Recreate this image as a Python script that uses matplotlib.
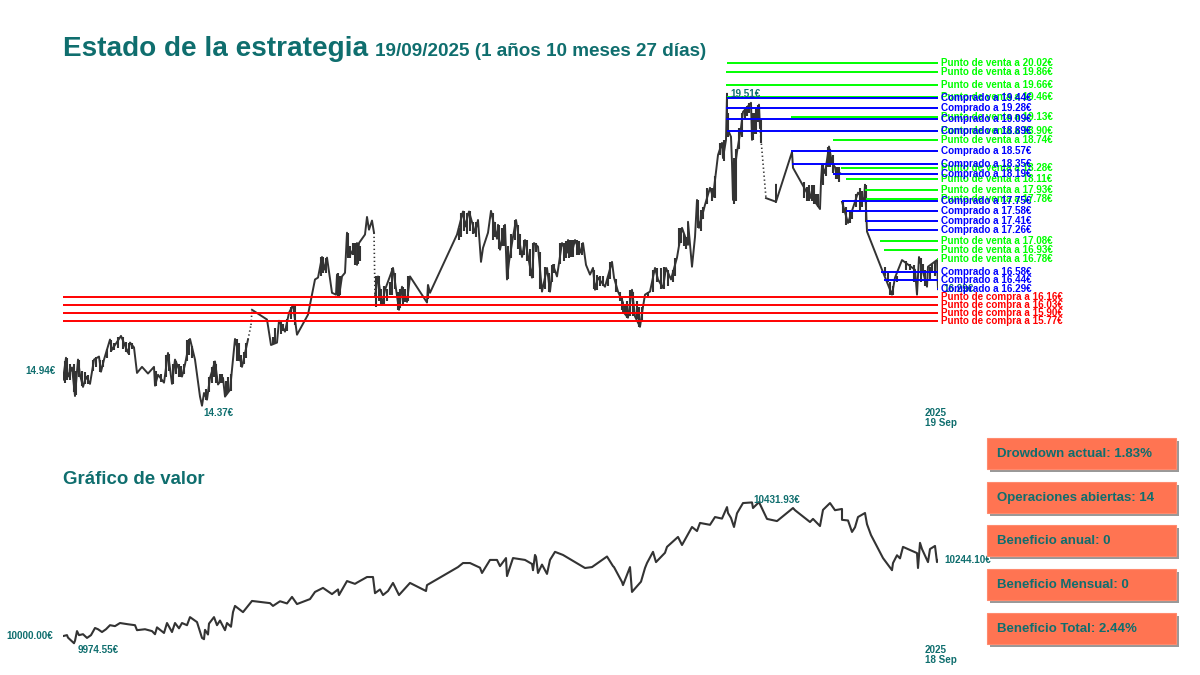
#!/usr/bin/env python
"""Estado de la estrategia: precio con niveles de compra/venta y gráfico de valor."""
import matplotlib
matplotlib.use("Agg")
import matplotlib.pyplot as plt
from matplotlib.patches import Rectangle

plt.rcParams["font.family"] = ["Liberation Sans", "DejaVu Sans"]
plt.rcParams["font.weight"] = "bold"

TEAL = "#0f6e6e"
LINE = "#333333"
GREEN = "#00ff00"
BLUE = "#0000ff"
RED = "#ff0000"

# precio: sesión (0 = inicio) y cierre
price_sessions = [
    0, 3, 5, 9, 12, 15, 17, 20, 23, 27,
    31, 36, 38, 41, 47, 49, 52, 58, 65, 67,
    71, 74, 79, 85, 91, 92, 95, 101, 105, 109,
    112, 119, 122, 127, 132, 137, 139, 141, 144, 147,
    152, 155, 160, 162, 167, 172, 179, 185, 188, 189,
    204, 208, 214, 216, 222, 226, 230, 234, 245, 249,
    252, 255, 259, 262, 264, 269, 273, 274, 276, 279,
    282, 284, 286, 294, 294, 296, 302, 304, 306, 309,
    311, 312, 315, 319, 322, 330, 336, 339, 344, 347,
    364, 365, 367, 394, 400, 402, 406, 412, 415, 418,
    420, 425, 428, 434, 435, 437, 442, 444, 446, 450,
    453, 459, 462, 469, 471, 475, 479, 484, 487, 490,
    494, 499, 504, 505, 509, 512, 517, 520, 523, 527,
    530, 532, 535, 542, 549, 551, 555, 560, 560, 565,
    569, 572, 577, 580, 582, 587, 592, 595, 600, 603,
    608, 614, 619, 625, 625, 629, 632, 634, 636, 642,
    647, 650, 655, 659, 660, 663, 664, 664, 668, 669,
    670, 672, 674, 678, 680, 688, 689, 692, 696, 697,
    703, 713, 713, 713, 729, 730, 747, 750, 752, 757,
    758, 759, 762, 766, 769, 772, 774, 777, 779, 785,
    795, 801, 802, 804, 819, 829, 832, 839, 852, 854,
    856, 864, 865, 874, 875,
]
price_closes = [
    14.80, 15.16, 14.85, 15.00, 14.53, 15.13, 14.88, 14.68, 14.85, 14.73,
    15.13, 15.18, 14.93, 15.13, 15.46, 15.29, 15.37, 15.52, 15.24, 15.41,
    15.33, 14.91, 15.01, 14.90, 15.01, 14.70, 14.88, 14.75, 15.24, 14.73,
    15.13, 14.85, 15.05, 15.47, 15.13, 14.52, 14.37, 14.58, 14.47, 14.83,
    15.10, 14.72, 14.83, 14.52, 14.63, 15.47, 15.01, 15.46, 15.70, 15.95,
    15.79, 15.37, 15.41, 15.77, 15.59, 15.90, 16.03, 15.54, 15.87, 16.20,
    16.45, 16.48, 16.82, 16.61, 16.81, 16.23, 16.20, 16.53, 16.17, 16.50,
    16.56, 17.22, 16.82, 17.05, 16.69, 17.05, 17.19, 17.48, 17.27, 17.42,
    17.22, 16.17, 16.50, 16.03, 16.28, 16.64, 15.95, 16.33, 16.08, 16.50,
    16.07, 16.36, 16.23, 17.19, 17.57, 17.32, 17.57, 17.22, 17.43, 16.74,
    16.97, 17.22, 17.58, 17.12, 17.35, 16.94, 17.35, 16.45, 16.74, 17.15,
    17.43, 16.82, 17.10, 16.48, 17.05, 16.99, 16.25, 16.64, 16.25, 16.69,
    16.50, 17.05, 16.89, 17.10, 16.90, 17.10, 16.89, 17.05, 16.69, 16.53,
    16.64, 16.28, 16.48, 16.33, 16.74, 16.48, 16.25, 16.07, 15.92, 15.82,
    16.28, 15.84, 15.67, 16.00, 16.20, 16.25, 16.64, 16.45, 16.31, 16.64,
    16.45, 16.81, 17.30, 17.02, 17.40, 16.66, 17.15, 17.76, 17.30, 17.68,
    17.96, 17.81, 18.50, 18.70, 18.45, 18.75, 19.51, 18.95, 18.80, 18.37,
    17.76, 18.30, 18.55, 18.95, 19.21, 19.36, 18.75, 19.11, 19.33, 18.95,
    17.79, 17.73, 18.01, 17.73, 18.55, 18.29, 17.79, 17.98, 17.73, 17.61,
    18.06, 18.33, 18.20, 18.64, 18.37, 18.30, 18.12, 18.20, 17.73, 17.38,
    17.88, 17.76, 18.01, 17.24, 16.61, 16.20, 16.48, 16.77, 16.61, 16.20,
    16.82, 16.33, 16.66, 16.77, 16.29,
]
# tramos donde el precio se ve punteado y huecos sin datos (sesión de inicio)
price_dotted = [185, 188, 311, 697]
price_gaps = [777]

# rango dentro de la sesión, visible como pelos verticales
wick_sessions = [
    2, 4, 7, 11, 13, 16, 19, 22, 25, 30, 33, 37, 40, 44, 48, 51, 55, 60, 63, 66, 69,
    93, 98, 103, 106, 110, 113, 116, 118, 121, 124, 126, 129,
    143, 146, 149, 151, 153, 157, 159, 163, 165, 168, 174, 176, 178, 181, 183,
    210, 212, 218, 220, 224, 228, 232,
    258, 260, 263, 275, 277, 285, 287, 290, 292, 295, 297,
    313, 316, 318, 321, 324, 327, 329, 332, 335, 337, 340, 342, 345,
    365, 396, 398, 401, 404, 407, 410, 413,
    430, 432, 436, 439, 441, 445, 448, 452, 455, 457, 461, 464, 467, 470, 473, 477, 482, 486, 489,
    491, 497, 501, 503, 506, 508, 510, 514, 516, 519,
    531, 534, 537, 540, 545, 547, 553, 557, 559, 562, 564, 567, 570, 574, 576, 579,
    585, 590, 594, 598, 601, 605, 610, 612, 616, 618, 621, 623,
    635, 638, 640, 644, 649, 652, 657, 661, 665,
    671, 673, 676, 679, 682, 684, 686, 690, 691, 693, 695, 698,
    741, 744, 746, 749, 751, 753, 755,
    760, 763, 765, 767, 770, 773, 775, 776,
    780, 783, 787, 789, 793, 797, 799, 803,
    822, 825, 827, 830, 834, 843, 847, 851, 858, 860, 862, 867, 869, 872,
]
wick_lows = [
    14.75, 14.80, 14.80, 14.60, 14.55, 14.85, 14.70, 14.72, 14.72, 14.95, 15.00, 14.92, 15.00, 15.15, 15.25, 15.28, 15.32, 15.30, 15.25, 15.20, 15.30,
    14.70, 14.76, 14.85, 14.95, 14.73, 14.90, 14.85, 14.85, 14.90, 15.10, 15.20, 15.15,
    14.47, 14.60, 14.75, 14.85, 14.75, 14.75, 14.75, 14.55, 14.60, 14.62, 15.10, 15.10, 15.00, 15.05, 15.15,
    15.38, 15.40, 15.55, 15.60, 15.60, 15.80, 15.70,
    16.50, 16.55, 16.55, 16.17, 16.20, 16.80, 16.80, 16.85, 16.69, 16.70, 16.75,
    16.00, 16.10, 16.03, 16.05, 16.10, 16.20, 16.20, 16.30, 15.95, 15.98, 16.05, 16.08, 16.10,
    16.12, 17.10, 17.15, 17.25, 17.20, 17.25, 17.20, 17.15,
    17.10, 17.15, 16.95, 17.00, 17.00, 16.45, 16.80, 17.10, 16.95, 16.85, 16.85, 16.75, 16.50, 16.48, 16.90, 16.30, 16.30, 16.25, 16.40,
    16.55, 16.70, 16.75, 16.80, 16.80, 16.82, 16.82, 16.85, 16.85, 16.85,
    16.30, 16.28, 16.35, 16.35, 16.35, 16.45, 16.25, 16.10, 15.95, 15.90, 15.82, 15.85, 15.85, 15.80, 15.67, 15.75,
    16.15, 16.25, 16.40, 16.30, 16.30, 16.35, 16.40, 16.50, 17.00, 17.05, 17.00, 16.95,
    17.30, 17.25, 17.45, 17.70, 17.75, 17.80, 18.50, 18.40, 18.80,
    17.70, 17.75, 18.60, 18.80, 19.10, 19.15, 19.20, 18.75, 18.85, 18.85, 19.05, 18.70,
    17.80, 17.75, 17.75, 17.75, 17.70, 17.70, 17.65,
    18.00, 18.15, 18.30, 18.30, 18.20, 18.10, 18.10, 18.05,
    17.55, 17.35, 17.38, 17.45, 17.65, 17.60, 17.65, 17.40,
    16.50, 16.40, 16.20, 16.20, 16.40, 16.60, 16.60, 16.40, 16.40, 16.55, 16.35, 16.45, 16.55, 16.50,
]
wick_highs = [
    15.10, 15.15, 15.05, 15.05, 14.95, 15.12, 14.95, 14.92, 14.87, 15.12, 15.17, 15.12, 15.12, 15.30, 15.46, 15.40, 15.50, 15.50, 15.42, 15.40, 15.40,
    14.95, 14.90, 15.20, 15.22, 15.05, 15.10, 15.05, 15.02, 15.05, 15.45, 15.47, 15.35,
    14.65, 14.85, 15.00, 15.10, 15.05, 14.90, 14.90, 14.78, 14.85, 14.90, 15.47, 15.40, 15.20, 15.25, 15.40,
    15.50, 15.65, 15.77, 15.72, 15.80, 16.00, 16.03,
    16.82, 16.82, 16.80, 16.55, 16.50, 17.22, 17.00, 17.05, 17.05, 17.05, 17.00,
    16.50, 16.50, 16.30, 16.35, 16.30, 16.40, 16.64, 16.55, 16.25, 16.30, 16.33, 16.30, 16.50,
    16.36, 17.30, 17.55, 17.57, 17.55, 17.57, 17.40, 17.40,
    17.55, 17.40, 17.35, 17.30, 17.35, 17.00, 17.20, 17.43, 17.35, 17.20, 17.10, 17.10, 16.95, 17.05, 17.05, 16.90, 16.65, 16.55, 16.69,
    16.70, 17.05, 17.05, 17.08, 17.10, 17.10, 17.10, 17.10, 17.08, 17.05,
    16.60, 16.52, 16.50, 16.50, 16.50, 16.74, 16.45, 16.25, 16.15, 16.05, 16.10, 16.28, 16.25, 16.10, 16.00, 16.00,
    16.25, 16.60, 16.64, 16.64, 16.65, 16.60, 16.60, 16.80, 17.30, 17.30, 17.20, 17.15,
    17.76, 17.60, 17.65, 17.95, 17.95, 18.15, 18.70, 18.75, 19.20,
    18.45, 18.60, 18.95, 19.20, 19.25, 19.30, 19.36, 19.20, 19.20, 19.25, 19.33, 19.10,
    18.05, 17.98, 18.00, 18.00, 18.00, 17.85, 17.85,
    18.33, 18.30, 18.64, 18.60, 18.50, 18.30, 18.30, 18.30,
    17.75, 17.65, 17.60, 17.60, 17.85, 17.95, 17.90, 18.00,
    16.65, 16.55, 16.40, 16.35, 16.50, 16.75, 16.70, 16.68, 16.80, 16.70, 16.60, 16.65, 16.70, 16.75,
]

# valor de la cartera
value_sessions = [
    0, 4, 5, 11, 12, 14, 16, 20, 24, 28, 32, 35, 39, 43, 47, 52, 57, 65, 72, 74,
    82, 89, 92, 94, 101, 104, 109, 112, 116, 119, 124, 127, 134, 139, 141, 142, 145, 146, 151, 154,
    157, 162, 164, 168, 170, 172, 180, 189, 207, 210, 217, 224, 229, 234, 247, 252, 260, 269, 275, 276,
    284, 292, 294, 304, 310, 312, 317, 320, 325, 330, 336, 347, 363, 364, 395, 400, 407, 417, 419, 427,
    434, 437, 443, 444, 450, 462, 469, 470, 472, 473, 475, 479, 484, 487, 492, 500, 522, 529, 544, 550,
    551, 559, 560, 567, 569, 578, 582, 584, 590, 593, 602, 604, 615, 619, 629, 634, 637, 647, 652, 659,
    664, 665, 668, 671, 674, 680, 689, 690, 696, 704, 714, 730, 732, 747, 750, 757, 760, 767, 772, 779,
    779, 785, 789, 792, 795, 802, 804, 808, 820, 829, 830, 834, 837, 840, 854, 855, 857, 859, 865, 867,
    872, 874, 875,
]
value_totals = [
    10000, 10003, 9995, 9977, 9985, 10016, 10003, 10006, 9994, 10003, 10026, 10022, 10013, 10022, 10035, 10032, 10042, 10038, 10035, 10019,
    10022, 10016, 10006, 10028, 10010, 10042, 10013, 10042, 10025, 10042, 10035, 10061, 10045, 9994, 9990, 10020, 10005, 10040, 10061, 10035,
    10050, 10019, 10042, 10030, 10077, 10097, 10077, 10113, 10106, 10097, 10112, 10105, 10126, 10103, 10119, 10142, 10155, 10135, 10150, 10132,
    10177, 10168, 10172, 10190, 10190, 10138, 10150, 10132, 10145, 10171, 10132, 10171, 10145, 10164, 10222, 10235, 10235, 10220, 10203, 10245,
    10245, 10225, 10251, 10193, 10251, 10245, 10232, 10212, 10261, 10255, 10203, 10230, 10200, 10245, 10271, 10261, 10219, 10222, 10256, 10225,
    10222, 10174, 10164, 10222, 10142, 10175, 10219, 10235, 10271, 10238, 10268, 10287, 10319, 10293, 10351, 10338, 10364, 10358, 10383, 10378,
    10415, 10396, 10380, 10351, 10395, 10428, 10430, 10412, 10431, 10377, 10370, 10412, 10405, 10367, 10377, 10354, 10406, 10428, 10405, 10409,
    10374, 10372, 10335, 10350, 10383, 10396, 10360, 10325, 10251, 10212, 10235, 10260, 10250, 10287, 10267, 10219, 10300, 10280, 10238, 10280,
    10290, 10238, 10244,
]

# niveles: precio y sesión en la que empieza la línea
sell_levels = [20.02, 19.86, 19.66, 19.46, 19.13, 18.90, 18.74, 18.28, 18.11, 17.93, 17.78, 17.08, 16.93, 16.78]
sell_starts = [664, 663, 663, 664, 728, 728, 770, 778, 783, 802, 803, 817, 821, 874]
buy_levels = [19.44, 19.28, 19.09, 18.89, 18.57, 18.35, 18.19, 17.75, 17.58, 17.41, 17.26, 16.58, 16.44, 16.29]
buy_starts = [664, 663, 663, 664, 728, 729, 770, 779, 783, 803, 805, 818, 821, 874]
entry_levels = [16.16, 16.03, 15.90, 15.77]

panel_labels = ["Drowdown actual: 1.83%", "Operaciones abiertas: 14", "Beneficio anual: 0",
                "Beneficio Mensual: 0", "Beneficio Total: 2.44%"]


def pos(x0, y0, x1, y1):
    # píxeles (origen arriba) -> fracción de figura
    return [x0 / 1200, 1 - y1 / 675, (x1 - x0) / 1200, (y1 - y0) / 675]


def plot_series(ax, xs, ys, dotted=(), gaps=(), lw=1.5):
    sx, sy = [], []
    for i in range(len(xs)):
        sx.append(xs[i])
        sy.append(ys[i])
        if i + 1 == len(xs):
            break
        if xs[i] in dotted:
            ax.plot(xs[i:i + 2], ys[i:i + 2], color=LINE, lw=1.2, ls=(0, (0.8, 1.6)))
        if xs[i] in dotted or xs[i] in gaps:
            sx.append(float("nan"))
            sy.append(float("nan"))
    ax.plot(sx, sy, color=LINE, lw=lw, solid_joinstyle="round")


fig = plt.figure(figsize=(12, 6.75), dpi=100)

ax = fig.add_axes(pos(63, 50, 938, 430))
ax.set_xlim(0, 875)
ax.set_ylim(13.97, 20.23)
ax.axis("off")
ax.vlines(wick_sessions, wick_lows, wick_highs, color=LINE, lw=1.5)
plot_series(ax, price_sessions, price_closes, price_dotted, price_gaps, lw=1.4)

lab = dict(fontsize=7.15, va="center", annotation_clip=False, textcoords="offset pixels")
for lev, st in zip(sell_levels, sell_starts):
    ax.plot([st, 875], [lev, lev], color=GREEN, lw=1.4, solid_capstyle="butt")
    ax.annotate(f"Punto de venta a {lev:.2f}€", (875, lev), xytext=(3, 0), color=GREEN, **lab)
ax.annotate("16.29€", (875, 16.29), xytext=(5, 0), color=TEAL, **lab)
for lev, st in zip(buy_levels, buy_starts):
    ax.plot([st, 875], [lev, lev], color=BLUE, lw=1.4, solid_capstyle="butt")
    ax.annotate(f"Comprado a {lev:.2f}€", (875, lev), xytext=(3, 0), color=BLUE, **lab)
for lev in entry_levels:
    ax.plot([0, 875], [lev, lev], color=RED, lw=1.4, solid_capstyle="butt")
    ax.annotate(f"Punto de compra a {lev:.2f}€", (875, lev), xytext=(3, 0), color=RED, **lab)

note = dict(fontsize=7.15, color=TEAL, annotation_clip=False, textcoords="offset pixels")
ax.annotate("19.51€", (664, 19.51), xytext=(3, 0), va="center", **note)
ax.annotate("14.94€", (0, 14.94), xytext=(-38, 0), va="center", **note)
ax.annotate("14.37€", (141, 14.37), xytext=(-1, -7), va="center", **note)
ax.annotate("2025\n19 Sep", (875, 13.97), xytext=(-13, 12), va="center", linespacing=1.0, **note)

vx = fig.add_axes(pos(63, 490, 938, 660))
vx.set_xlim(0, 875)
vx.set_ylim(9923, 10470)
vx.axis("off")
plot_series(vx, value_sessions, value_totals)

vx.annotate("10000.00€", (0, 10000), xytext=(-57, 0), va="center", **note)
vx.annotate("9974.55€", (11, 9974.55), xytext=(4, -6), va="center", **note)
vx.annotate("10431.93€", (690, 10431.93), xytext=(0, 2), va="center", **note)
vx.annotate("10244.10€", (875, 10244.10), xytext=(6, 0), va="center", **note)
vx.annotate("2025\n18 Sep", (875, 9923), xytext=(-13, 5), va="center", linespacing=1.0, **note)

# capa en píxeles para títulos y paneles
ov = fig.add_axes([0, 0, 1, 1], zorder=5)
ov.set_xlim(0, 1200)
ov.set_ylim(675, 0)
ov.axis("off")
ov.patch.set_alpha(0)
ov.text(63, 49, "Estado de la estrategia", fontsize=20.1, color=TEAL, va="center")
ov.text(375, 52, "19/09/2025 (1 años 10 meses 27 días)", fontsize=13.6, color=TEAL, va="center")
ov.text(63, 480, "Gráfico de valor", fontsize=13.4, color=TEAL, va="center")

for i, txt in enumerate(panel_labels):
    top = 438 + i * 43.7
    ov.add_patch(Rectangle((990, top + 3), 189, 31, fc="#999999", ec="none"))
    ov.add_patch(Rectangle((987, top), 189, 31, fc="#ff7452", ec="#ff8a6e", lw=0.8))
    ov.text(997, top + 16, txt, fontsize=9.5, color=TEAL, va="center")

fig.savefig("out.png", dpi=100)
